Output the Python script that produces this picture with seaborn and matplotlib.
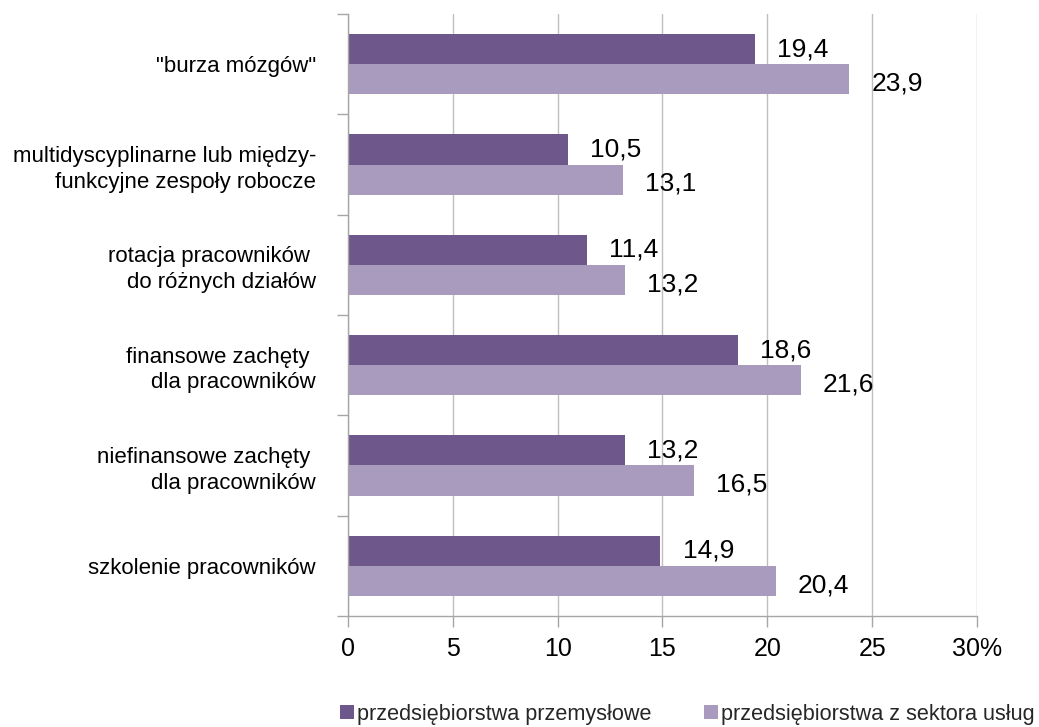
import matplotlib
matplotlib.use("Agg")
import matplotlib.pyplot as plt
import seaborn as sns
import pandas as pd
from matplotlib.ticker import FixedLocator, FuncFormatter

categories = ['"burza mózgów"',
              "multidyscyplinarne lub między-\nfunkcyjne zespoły robocze",
              "rotacja pracowników \ndo różnych działów",
              "finansowe zachęty \ndla pracowników",
              "niefinansowe zachęty \ndla pracowników",
              "szkolenie pracowników"]
series_names = ["przedsiębiorstwa przemysłowe", "przedsiębiorstwa z sektora usług"]
industry = [19.4, 10.5, 11.4, 18.6, 13.2, 14.9]
services = [23.9, 13.1, 13.2, 21.6, 16.5, 20.4]
x_ticks = [0, 5, 10, 15, 20, 25, 30]
colors = ["#6E588B", "#A99BBD"]

df = pd.DataFrame({
    "cat": categories * 2,
    "series": [series_names[0]] * len(categories) + [series_names[1]] * len(categories),
    "val": industry + services,
})

sns.set_theme(style="white")
plt.rcParams["font.family"] = ["Liberation Sans", "DejaVu Sans"]

fig = plt.figure(figsize=(10.39, 7.27), dpi=100)
ax = fig.add_axes([0.3349, 0.1527, 0.9403 - 0.3349, 0.9807 - 0.1527])

sns.barplot(data=df, y="cat", x="val", hue="series", order=categories,
            hue_order=series_names, palette=colors, width=0.6, orient="h",
            saturation=1, linewidth=0, ax=ax, legend=True)

ax.set_xlim(0, 30)
ax.set_ylim(len(categories) - 0.5, -0.5)
ax.set_xlabel("")
ax.set_ylabel("")

ax.xaxis.set_major_locator(FixedLocator(x_ticks))
ax.xaxis.set_major_formatter(FuncFormatter(lambda v, p: f"{int(v)}%" if v == 30 else f"{int(v)}"))
ax.grid(axis="x", color="#BFBFBF", linewidth=1)
ax.grid(axis="y", visible=False)
ax.set_axisbelow(True)

ax.set_yticks(range(len(categories)))
ax.set_yticklabels(categories, fontsize=16, color="#000000", ha="right",
                   multialignment="right", linespacing=1.3)
ax.yaxis.set_minor_locator(FixedLocator([i - 0.5 for i in range(len(categories) + 1)]))
ax.tick_params(axis="y", which="major", length=0, pad=23)
ax.tick_params(axis="y", which="minor", length=8, color="#A6A6A6", width=1, left=True)
ax.tick_params(axis="x", which="major", length=8, color="#A6A6A6", width=1, bottom=True,
               labelsize=18, labelcolor="#000000", pad=7)

for s in ["top", "right"]:
    ax.spines[s].set_visible(False)
for s in ["left", "bottom"]:
    ax.spines[s].set_color("#A6A6A6")
    ax.spines[s].set_linewidth(1)

for i, cont in enumerate(ax.containers):
    labels = [f"{b.get_width():.1f}".replace(".", ",") for b in cont]
    anns = ax.bar_label(cont, labels=labels, padding=16, fontsize=19, color="#000000")
    if i == 1:
        for a in anns:
            xo, yo = a.xyann
            a.xyann = (xo, yo - 3)

leg = ax.get_legend()
handles = leg.legend_handles
leg.remove()
fig.legend(handles, series_names, loc="center", bbox_to_anchor=(0.6617, 0.0175), ncol=2,
           frameon=False, fontsize=15.6, handlelength=0.65, handleheight=0.65,
           handletextpad=0.15, columnspacing=2.4, borderaxespad=0, borderpad=0)

fig.savefig("out.png", dpi=100)
